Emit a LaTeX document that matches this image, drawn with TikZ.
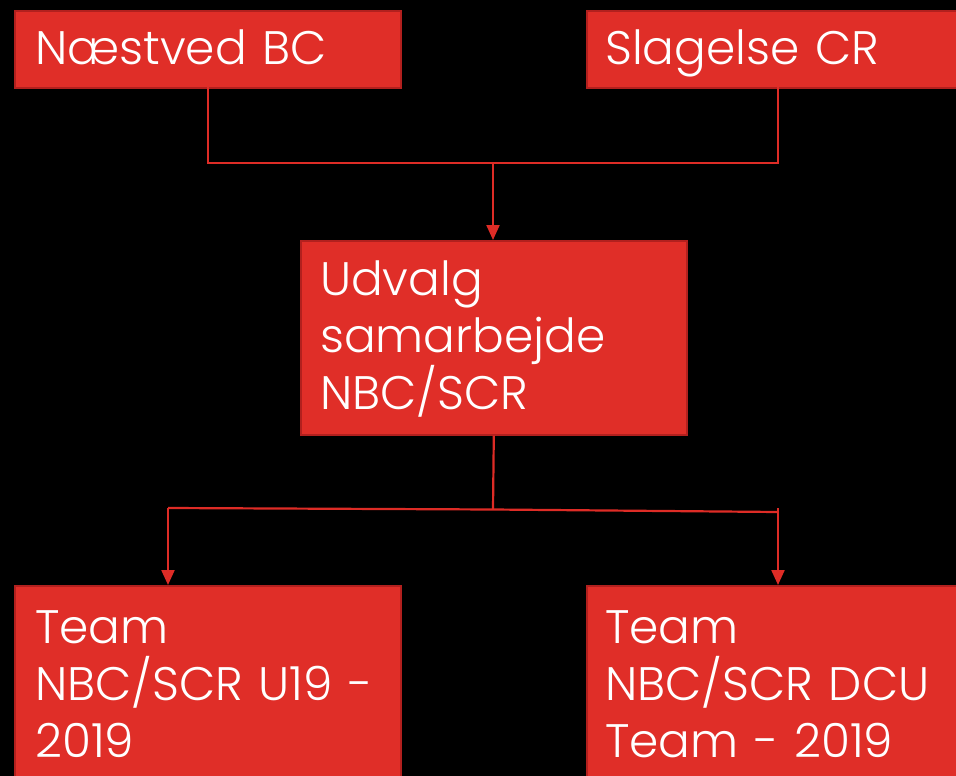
\documentclass[tikz,border=0pt]{standalone}
\usepackage{fontspec}
\setmainfont{Poppins Light}
\usetikzlibrary{arrows.meta}
\definecolor{boxred}{RGB}{224,46,40}
\definecolor{boxedge}{RGB}{178,32,30}
\definecolor{linered}{RGB}{222,44,38}
\tikzset{
  box/.style={draw=boxedge, line width=1.6pt, fill=boxred, inner sep=0pt, anchor=north west},
  txt/.style={text=white, inner sep=0pt, anchor=base west, align=left, text width=#1,
    font=\fontsize{47}{57}\selectfont},
  txt/.default=400pt,
  conn/.style={draw=linered, line width=2.2pt},
  arr/.style={conn, -{Triangle[length=15pt,width=13pt]}}
}
\begin{document}
\begin{tikzpicture}[x=1pt,y=-1pt]
\fill[black] (0,0) rectangle (956,776);
\useasboundingbox (0,0) rectangle (956,776);
\clip (0,0) rectangle (956,776);
% boxes
\node[box, minimum width=386pt, minimum height=77pt] (nbc) at (14,10) {};
\node[box, minimum width=400pt, minimum height=77pt] (scr) at (586,10) {};
\node[box, minimum width=386pt, minimum height=194pt] (udv) at (300,240) {};
\node[box, minimum width=386pt, minimum height=220pt] (u19) at (14,585) {};
\node[box, minimum width=400pt, minimum height=220pt] (dcu) at (586,585) {};
% texts
\node[txt] (nbct) at (35,65) {Næstved BC};
\node[txt] (scrt) at (605,65) {Slagelse CR};
\node[txt] (udvt) at (320,295) {Udvalg\\samarbejde\\NBC/SCR};
\node[txt] (u19t) at (35,643) {Team\\NBC/SCR U19 -\\2019};
\node[txt] (dcut) at (605,643) {Team\\NBC/SCR DCU\\Team - 2019};
% junctions
\coordinate (j1) at (493,163);
\coordinate (nbcd) at (208,87);
\coordinate (scrd) at (778,87);
\coordinate (j2) at (493,509.5);
\coordinate (jl) at (168,508);
\coordinate (jr) at (778,512);
\coordinate (jrt) at (778,508);
% connectors
\draw[conn] (nbcd) |- (j1) -| (scrd);
\draw[arr] (j1) -- (j1 |- udv.north);
\draw[conn] (udv.south) -- (j2);
\draw[conn] (jl) -- (j2) -- (jr);
\draw[arr] (jl) -- (jl |- u19.north);
\draw[arr] (jrt) -- (jrt |- dcu.north);
\end{tikzpicture}
\end{document}
